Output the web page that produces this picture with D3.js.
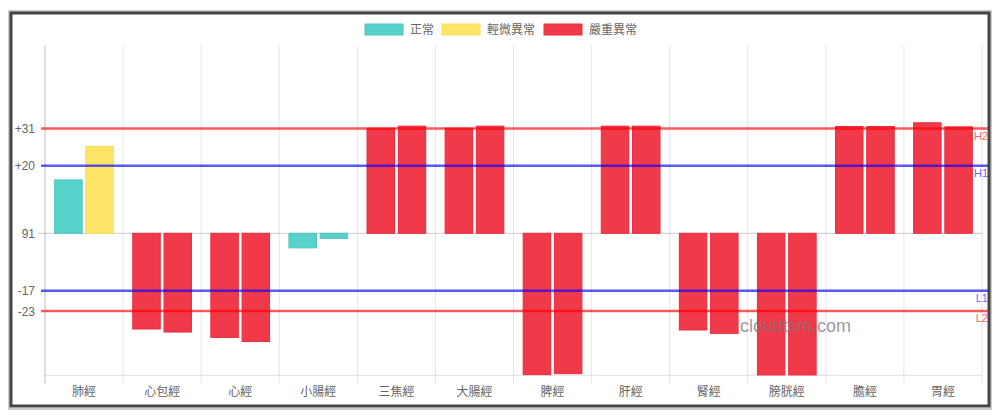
<!DOCTYPE html>
<html>
  <head>
    <meta charset="utf-8">
    <script src="https://d3js.org/d3.v7.min.js"></script>
    <style>
      body { margin: 0px; background: #fff; }
    </style>
  </head>
  <body>
    <svg width="1000" height="416" font-family="Liberation Sans, Noto Sans CJK TC, sans-serif"></svg>
    <script>
      // data
      const categories = ['肺經', '心包經', '心經', '小腸經', '三焦經', '大腸經', '脾經', '肝經', '腎經', '膀胱經', '膽經', '胃經'];
      const leftValues = [15.8, -28.3, -30.8, -4.3, 31.1, 31.1, -41.8, 31.7, -28.6, -41.9, 31.6, 32.7];
      const rightValues = [25.7, -29.2, -32.0, -1.5, 31.7, 31.7, -41.5, 31.7, -29.6, -41.9, 31.6, 31.5];
      // 0 = 正常, 1 = 輕微異常, 2 = 嚴重異常
      const leftStatus = [0, 2, 2, 0, 2, 2, 2, 2, 2, 2, 2, 2];
      const rightStatus = [1, 2, 2, 0, 2, 2, 2, 2, 2, 2, 2, 2];
      const legendNames = ['正常', '輕微異常', '嚴重異常'];
      const tickValues = [31, 20, 0, -17, -23];
      const tickLabels = ['+31', '+20', '91', '-17', '-23'];
      const refNames = ['H2', 'H1', 'L1', 'L2'];
      const refValues = [31, 20, -17, -23];

      const fills = ['#57d1c9', '#ffe566', '#f03a4a'];
      const strokes = ['#4ec6be', '#f7dc5a', '#ec2c3e'];
      const refColors = ['rgba(255,0,0,0.65)', 'rgba(0,0,255,0.65)', 'rgba(0,0,255,0.65)', 'rgba(255,0,0,0.65)'];

      const svg = d3.select('svg');
      const width = +svg.attr('width');
      const height = +svg.attr('height');
      const margin = { left: 45, right: 18, top: 45.7, bottom: 40.7 };
      const innerWidth = width - margin.left - margin.right;
      const innerHeight = height - margin.top - margin.bottom;

      // frame
      svg.append('rect')
          .attr('x', 9).attr('y', 11).attr('width', 982).attr('height', 398)
          .attr('fill', 'none').attr('stroke', '#ccc').attr('stroke-width', 2);
      svg.append('rect')
          .attr('x', 11).attr('y', 13).attr('width', 978).attr('height', 393)
          .attr('fill', '#fff').attr('stroke', '#444').attr('stroke-width', 3);

      const g = svg.append('g')
          .attr('transform', `translate(${margin.left},${margin.top})`);

      const xScale = d3.scaleBand()
          .domain(categories)
          .range([0, innerWidth]);
      const yScale = d3.scaleLinear()
          .domain([-42, 55.5])
          .range([innerHeight, 0]);

      // vertical grid lines
      g.append('g').selectAll('line').data(d3.range(categories.length + 1))
        .enter().append('line')
          .attr('x1', i => i * xScale.step()).attr('x2', i => i * xScale.step())
          .attr('y1', 0).attr('y2', innerHeight + 8)
          .attr('stroke', i => i === 0 ? 'rgba(0,0,0,0.25)' : 'rgba(0,0,0,0.1)');

      // zero line
      g.append('line')
          .attr('x1', -7).attr('x2', innerWidth)
          .attr('y1', yScale(0)).attr('y2', yScale(0))
          .attr('stroke', 'rgba(0,0,0,0.2)');
      // bottom line
      g.append('line')
          .attr('x1', 0).attr('x2', innerWidth)
          .attr('y1', innerHeight).attr('y2', innerHeight)
          .attr('stroke', 'rgba(0,0,0,0.12)');

      // bars
      const bars = [];
      categories.forEach((c, i) => {
        bars.push({ c: c, k: 0, v: leftValues[i], s: leftStatus[i] });
        bars.push({ c: c, k: 1, v: rightValues[i], s: rightStatus[i] });
      });
      const slot = xScale.bandwidth() * 0.4;
      const bw = slot * 0.88;
      const barX = d => xScale(d.c) + xScale.bandwidth() * 0.1 + slot * d.k + slot * 0.06;
      g.append('g').selectAll('rect').data(bars)
        .enter().append('rect')
          .attr('x', barX)
          .attr('width', bw)
          .attr('y', d => yScale(Math.max(0, d.v)))
          .attr('height', d => Math.abs(yScale(d.v) - yScale(0)))
          .attr('fill', d => fills[d.s])
          .attr('stroke', d => strokes[d.s])
          .attr('stroke-width', 1);

      // reference lines
      refValues.forEach((v, i) => {
        g.append('line')
            .attr('x1', -4).attr('x2', innerWidth + 6)
            .attr('y1', yScale(v)).attr('y2', yScale(v))
            .attr('stroke', refColors[i]).attr('stroke-width', 2.5);
        g.append('text')
            .attr('x', innerWidth + 6).attr('y', yScale(v) + 11)
            .attr('text-anchor', 'end')
            .attr('font-size', 11)
            .attr('fill', refColors[i])
            .text(refNames[i]);
      });

      // axes
      const yAxis = d3.axisLeft(yScale)
          .tickValues(tickValues)
          .tickFormat((d, i) => tickLabels[i])
          .tickSize(0)
          .tickPadding(10);
      const yAxisG = g.append('g').call(yAxis)
          .attr('font-size', 12)
          .attr('font-family', null);
      yAxisG.select('.domain').remove();
      yAxisG.selectAll('.tick line').remove();
      yAxisG.selectAll('text').attr('fill', '#666').attr('dy', null).attr('y', 4);

      const xAxis = d3.axisBottom(xScale).tickSize(0).tickPadding(12);
      const xAxisG = g.append('g')
          .attr('transform', `translate(0,${innerHeight})`)
          .call(xAxis)
          .attr('font-size', 12)
          .attr('font-family', null);
      xAxisG.select('.domain').remove();
      xAxisG.selectAll('.tick line').remove();
      xAxisG.selectAll('text').attr('fill', '#666').attr('dy', null).attr('y', 21);

      // legend
      const legend = svg.append('g');
      const legendX = [365, 442, 544];
      legendNames.forEach((n, i) => {
        legend.append('rect')
            .attr('x', legendX[i]).attr('y', 24).attr('width', 38).attr('height', 11)
            .attr('fill', fills[i]).attr('stroke', strokes[i]);
        legend.append('text')
            .attr('x', legendX[i] + 45).attr('y', 34)
            .attr('font-size', 12).attr('fill', '#666')
            .text(n);
      });

      // watermark
      svg.append('text')
          .attr('x', 740).attr('y', 332)
          .attr('font-size', 18)
          .attr('fill', 'rgba(120,120,120,0.75)')
          .text('cloudtcm.com');
    </script>
  </body>
</html>
